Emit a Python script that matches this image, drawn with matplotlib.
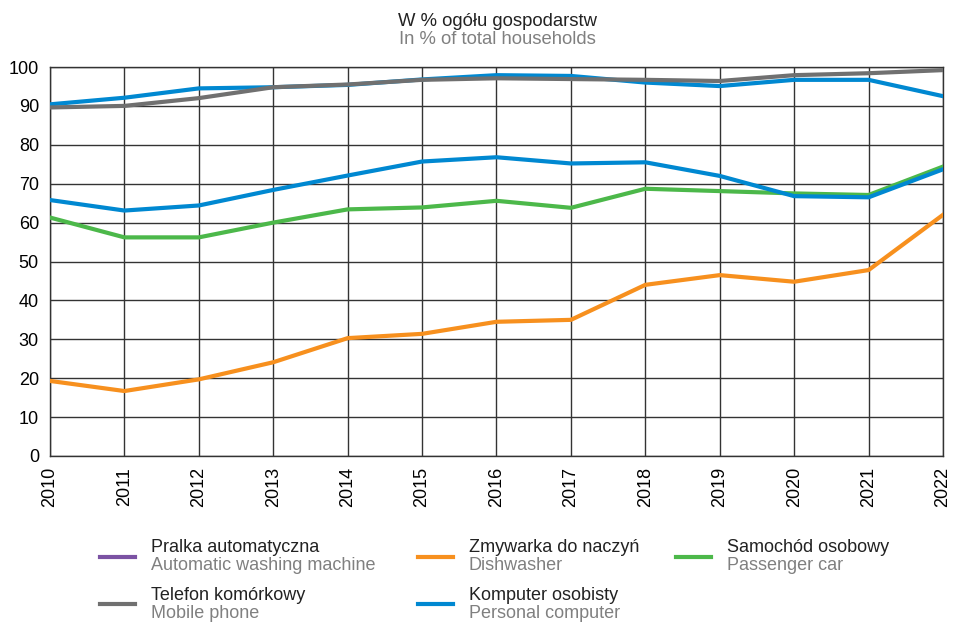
import matplotlib.pyplot as plt
from matplotlib.lines import Line2D

plt.rcParams['font.family'] = ['Liberation Sans', 'DejaVu Sans']

years = [2010, 2011, 2012, 2013, 2014, 2015, 2016, 2017, 2018, 2019, 2020, 2021, 2022]

pralka = [90.4, 92.1, 94.5, 94.8, 95.4, 96.8, 97.9, 97.7, 96.0, 95.1, 96.7, 96.7, 92.5]
telefon = [89.6, 90.0, 92.0, 94.8, 95.5, 96.7, 97.1, 96.9, 96.7, 96.4, 97.9, 98.4, 99.2]
komputer = [65.8, 63.1, 64.4, 68.4, 72.1, 75.7, 76.8, 75.2, 75.5, 72.0, 66.8, 66.5, 73.7]
samochod = [61.3, 56.2, 56.2, 60.0, 63.4, 63.9, 65.6, 63.8, 68.7, 68.1, 67.5, 67.1, 74.4]
zmywarka = [19.3, 16.7, 19.7, 24.1, 30.3, 31.4, 34.5, 35.0, 44.0, 46.5, 44.8, 47.8, 62.0]

c_purple = "#7b52a3"
c_orange = "#f7901e"
c_green = "#4cb84a"
c_gray = "#707070"
c_blue = "#0088d1"

fig = plt.figure(figsize=(9.56, 6.24), dpi=100)
ax = fig.add_axes([50/956, 1-456/624, (943-50)/956, (456-67)/624])

lw = 3
ax.plot(years, pralka, color=c_blue, lw=lw, zorder=3)
ax.plot(years, telefon, color=c_gray, lw=lw, zorder=4)
ax.plot(years, komputer, color=c_blue, lw=lw, zorder=4)
ax.plot(years, samochod, color=c_green, lw=lw, zorder=3)
ax.plot(years, zmywarka, color=c_orange, lw=lw, zorder=3)

ax.set_xlim(2010, 2022)
ax.set_ylim(0, 100)
ax.set_xticks(years)
ax.set_xticklabels([str(y) for y in years], rotation=90, fontsize=13)
ax.set_yticks(range(0, 101, 10))
ax.tick_params(axis='y', labelsize=13, length=0, pad=8)
ax.tick_params(axis='x', length=0, pad=8)
ax.grid(True, color="#333333", lw=1)
for s in ax.spines.values():
    s.set_color("#333333")
    s.set_linewidth(1)

fig.text(497/956, 1-21/624, "W % ogółu gospodarstw", ha="center", va="center", fontsize=13.3, color="#222222")
fig.text(497/956, 1-40/624, "In % of total households", ha="center", va="center", fontsize=13.3, color="#808080")

# legend
entries = [
    (100, 548, c_purple, "Pralka automatyczna", "Automatic washing machine"),
    (418, 548, c_orange, "Zmywarka do naczyń", "Dishwasher"),
    (676, 548, c_green, "Samochód osobowy", "Passenger car"),
    (100, 595, c_gray, "Telefon komórkowy", "Mobile phone"),
    (418, 595, c_blue, "Komputer osobisty", "Personal computer"),
]
for x, y, c, pl, en in entries:
    yl = 1 - (y + 9) / 624
    fig.add_artist(Line2D([x/956, (x+35)/956], [yl, yl], color=c, lw=lw, transform=fig.transFigure))
    fig.text((x+51)/956, 1-y/624, pl, ha="left", va="center", fontsize=13, color="#222222")
    fig.text((x+51)/956, 1-(y+18)/624, en, ha="left", va="center", fontsize=13, color="#808080")

fig.savefig("out.png", dpi=100)
